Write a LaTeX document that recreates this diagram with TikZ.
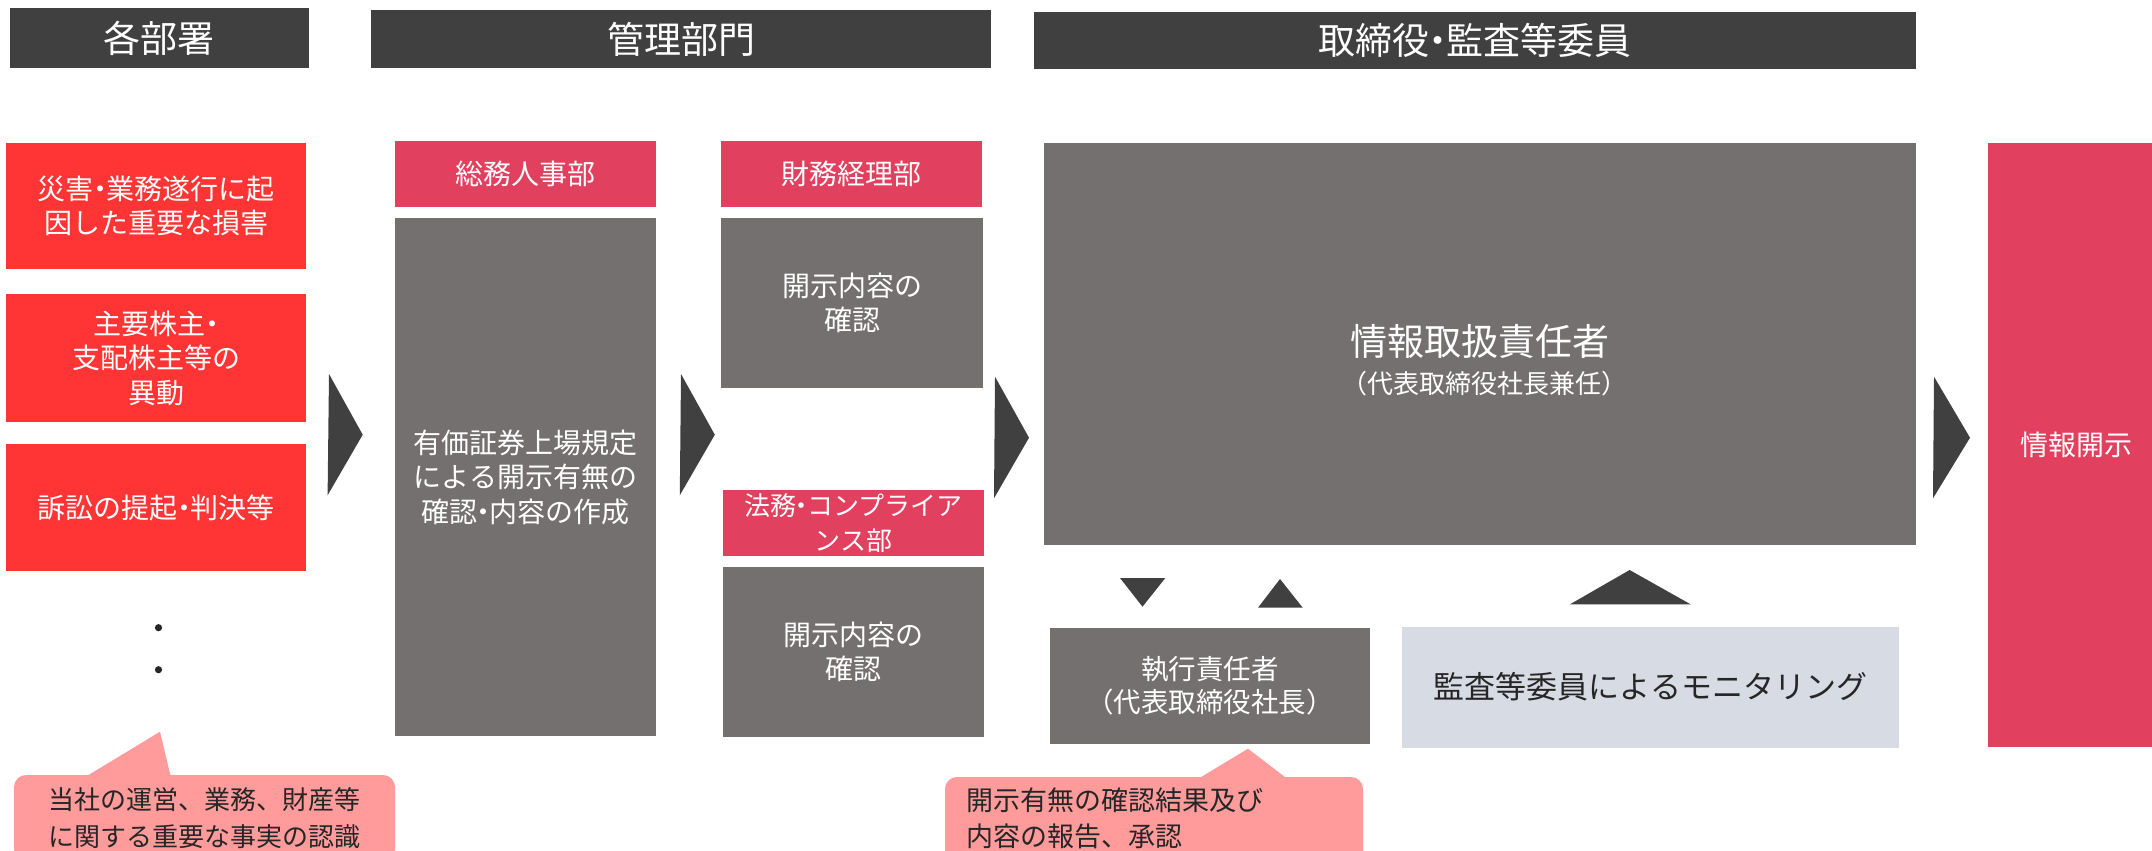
\documentclass[tikz,border=0pt]{standalone}
\usepackage{fontspec}
\setmainfont{Noto Sans CJK JP}
\definecolor{hdrc}{HTML}{404040}
\definecolor{redc}{HTML}{FF3535}
\definecolor{pinkc}{HTML}{E2405F}
\definecolor{grayc}{HTML}{757070}
\definecolor{lightc}{HTML}{D7DCE4}
\definecolor{calloutc}{HTML}{FF9B9B}
\definecolor{textc}{HTML}{262626}
\newcommand{\nd}{\makebox[0.45em]{・}}
\begin{document}
\begin{tikzpicture}[x=1pt,y=-1pt,
  box/.style={rectangle, inner sep=0pt, outer sep=0pt, align=center, text=white},
  hdr/.style={box, fill=hdrc, font=\fontsize{37}{42}\selectfont},
  redbox/.style={box, fill=redc, minimum width=300pt, font=\fontsize{28}{34.5}\selectfont},
  pinkbox/.style={box, fill=pinkc, font=\fontsize{28}{35}\selectfont},
  graybox/.style={box, fill=grayc, font=\fontsize{28}{34.5}\selectfont},
  calloutbox/.style={box, fill=calloutc, rounded corners=12pt, text=textc, font=\fontsize{26}{36.7}\selectfont},
  txt/.style={inner sep=0pt, outer sep=0pt, align=center, text=white},
  shapefill/.style={fill=hdrc}
]
\useasboundingbox (0,0) rectangle (2152,851);
\clip (0,0) rectangle (2152,851);
\fill[white] (0,0) rectangle (2152,851);

% headers
\node[hdr, minimum width=299pt, minimum height=60pt] (hA) at (159.3,38) {各部署};
\node[hdr, minimum width=620pt, minimum height=58pt] (hB) at (681,39) {管理部門};
\node[hdr, minimum width=882pt, minimum height=57pt] (hC) at (1475,40.5) {取締役\nd 監査等委員};

% red boxes
\node[redbox, minimum height=126pt] (r1) at (156,206) {災害\nd 業務遂行に起\\因した重要な損害};
\node[redbox, minimum height=128pt] (r2) at (156,358) {主要株主\nd\\支配株主等の\\異動};
\node[redbox, minimum height=127pt] (r3) at (156,507.5) {訴訟の提起\nd 判決等};

% dots
\fill[textc] (158.5,627.7) circle (3.6pt);
\fill[textc] (158.5,669.7) circle (3.6pt);

% management
\node[pinkbox, minimum width=261pt, minimum height=66pt] (p1) at (525.5,174) {総務人事部};
\node[graybox, minimum width=261pt, minimum height=518pt] (g1) at (525.5,477) {有価証券上場規定\\による開示有無の\\確認\nd 内容の作成};
\node[pinkbox, minimum width=261pt, minimum height=66pt] (p2) at (851.5,174) {財務経理部};
\node[graybox, minimum width=262pt, minimum height=170pt] (g2) at (852,303) {開示内容の\\確認};
\node[pinkbox, minimum width=261pt, minimum height=66pt, font=\fontsize{26}{35}\selectfont] (p3) at (853.5,523) {法務\nd コンプライア\\ンス部};
\node[graybox, minimum width=261pt, minimum height=170pt] (g3) at (853.5,652) {開示内容の\\確認};

% board
\node[graybox, minimum width=872pt, minimum height=402pt] (G) at (1480,344) {};
\node[txt, font=\fontsize{37}{44}\selectfont] (Gt1) at (1479.5,341.7) {情報取扱責任者};
\node[txt, font=\fontsize{26}{32}\selectfont] (Gt2) at (1484.7,383.3) {（代表取締役社長兼任）};
\node[pinkbox, minimum width=176pt, minimum height=604pt] (D) at (2076,445) {情報開示};
\node[graybox, minimum width=320pt, minimum height=116pt, font=\fontsize{27.5}{33.3}\selectfont] (E) at (1210,686) {執行責任者\\\mbox{\kern-0.4em（代表取締役社長）\kern-0.4em}};
\node[box, fill=lightc, text=textc, minimum width=497pt, minimum height=121pt, font=\fontsize{31}{36}\selectfont] (M) at (1650.5,687) {監査等委員によるモニタリング};

% chevrons
\fill[shapefill] (329,374) -- (362.7,434.7) -- (327.6,495.3) -- cycle;
\fill[shapefill] (681,374) -- (714.8,434.7) -- (679.8,495.3) -- cycle;
\fill[shapefill] (995,376.7) -- (1029,437.7) -- (994,498.3) -- cycle;
\fill[shapefill] (1934,376.7) -- (1970,437.7) -- (1933,498.3) -- cycle;

% small triangles
\fill[shapefill] (1120,578) -- (1165.3,578) -- (1142.5,606.7) -- cycle;
\fill[shapefill] (1258,607.7) -- (1302.7,607.7) -- (1280,579) -- cycle;
\fill[shapefill] (1570,604.3) -- (1690.6,604.3) -- (1629.6,570) -- cycle;

% callouts
\node[calloutbox, minimum width=381pt, minimum height=86pt] (C1) at (204.5,818) {当社の運営、業務、財産等\\に関する重要な事実の認識};
\fill[calloutc] (77,782) -- (160,731.7) -- (172,782) -- cycle;
\node[calloutbox, minimum width=418pt, minimum height=86pt] (C2) at (1154,820) {};
\fill[calloutc] (1189.6,784) -- (1248,748.7) -- (1294,784) -- cycle;
\node[txt, anchor=west, align=left, text=textc, font=\fontsize{27}{36.7}\selectfont] (C2t) at (966,818.4) {開示有無の確認結果及び\\内容の報告、承認};
\end{tikzpicture}
\end{document}
